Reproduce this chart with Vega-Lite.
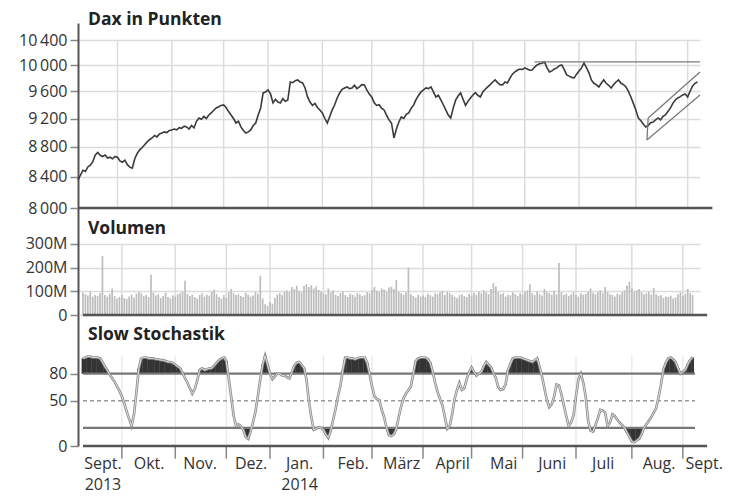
{
"$schema": "https://vega.github.io/schema/vega-lite/v6.json",
"background": "white",
"padding": {"left": 0, "top": 10, "right": 0, "bottom": 22},
"spacing": 0,
"bounds": "flush",
"config": {
  "view": {"stroke": null},
  "font": "Open Sans",
  "axis": {"labelFont": "Open Sans", "labelFontSize": 16, "labelColor": "#333", "labelOverlap": false, "domainColor": "#555", "domainWidth": 2, "tickColor": "#888", "tickSize": 8, "tickWidth": 1.5, "labelPadding": 3, "gridColor": "#dcdcdc", "gridWidth": 1.5},
  "axisY": {"minExtent": 78, "maxExtent": 78, "labelFontSize": 16},
  "title": {"font": "Open Sans", "fontSize": 17.5, "fontWeight": "bold", "color": "#222", "anchor": "start", "frame": "group", "baseline": "alphabetic", "dx": 10}
},
"datasets": {
"m": [{"b":16},{"b":38},{"b":59},{"b":77},{"b":99},{"b":119},{"b":140},{"b":160},{"b":181},{"b":203},{"b":226},{"b":247}],
"lines": [{"g":"r","t":185,"v":10050},{"g":"r","t":252,"v":10050},{"g":"u","t":231,"v":9208},{"g":"u","t":252,"v":9894},{"g":"l","t":230.5,"v":8897},{"g":"l","t":252,"v":9545},{"g":"c","t":230.5,"v":8897},{"g":"c","t":231,"v":9208}],
"d": [
{"t":0,"c":8358,"v":95,"k":97},{"t":1,"c":8420,"v":88,"k":98},{"t":2,"c":8486,"v":82,"k":99},{"t":3,"c":8470,"v":100,"k":99},{"t":4,"c":8530,"v":78,"k":98},{"t":5,"c":8553,"v":85,"k":98},{"t":6,"c":8600,"v":80,"k":98},{"t":7,"c":8690,"v":92,"k":97},{"t":8,"c":8726,"v":250,"k":93},{"t":9,"c":8686,"v":85,"k":88},
{"t":10,"c":8670,"v":78,"k":84},{"t":11,"c":8690,"v":90,"k":79},{"t":12,"c":8650,"v":112,"k":75},{"t":13,"c":8660,"v":80,"k":71},{"t":14,"c":8640,"v":70,"k":66},{"t":15,"c":8670,"v":76,"k":61},{"t":16,"c":8660,"v":84,"k":55},{"t":17,"c":8610,"v":72,"k":47},{"t":18,"c":8593,"v":68,"k":38},{"t":19,"c":8620,"v":78,"k":30},
{"t":20,"c":8560,"v":86,"k":22},{"t":21,"c":8527,"v":74,"k":35},{"t":22,"c":8514,"v":90,"k":60},{"t":23,"c":8640,"v":98,"k":86},{"t":24,"c":8713,"v":92,"k":97},{"t":25,"c":8760,"v":80,"k":98},{"t":26,"c":8793,"v":85,"k":98},{"t":27,"c":8830,"v":76,"k":97},{"t":28,"c":8870,"v":170,"k":97},{"t":29,"c":8900,"v":95,"k":97},
{"t":30,"c":8925,"v":82,"k":96},{"t":31,"c":8960,"v":88,"k":96},{"t":32,"c":8940,"v":72,"k":95},{"t":33,"c":8980,"v":80,"k":95},{"t":34,"c":8993,"v":94,"k":94},{"t":35,"c":9010,"v":76,"k":93},{"t":36,"c":9000,"v":70,"k":93},{"t":37,"c":9030,"v":82,"k":92},{"t":38,"c":9037,"v":78,"k":90},{"t":39,"c":9050,"v":88,"k":88},
{"t":40,"c":9040,"v":92,"k":86},{"t":41,"c":9070,"v":98,"k":81},{"t":42,"c":9060,"v":145,"k":75},{"t":43,"c":9090,"v":90,"k":70},{"t":44,"c":9079,"v":80,"k":64},{"t":45,"c":9050,"v":86,"k":58},{"t":46,"c":9100,"v":76,"k":63},{"t":47,"c":9066,"v":70,"k":72},{"t":48,"c":9160,"v":84,"k":84},{"t":49,"c":9208,"v":92,"k":86},
{"t":50,"c":9190,"v":78,"k":84},{"t":51,"c":9230,"v":86,"k":85},{"t":52,"c":9200,"v":82,"k":86},{"t":53,"c":9251,"v":98,"k":86},{"t":54,"c":9280,"v":108,"k":89},{"t":55,"c":9320,"v":88,"k":92},{"t":56,"c":9353,"v":76,"k":95},{"t":57,"c":9370,"v":70,"k":97},{"t":58,"c":9390,"v":84,"k":98},{"t":59,"c":9397,"v":72,"k":94},
{"t":60,"c":9360,"v":96,"k":75},{"t":61,"c":9300,"v":110,"k":55},{"t":62,"c":9251,"v":92,"k":34},{"t":63,"c":9200,"v":84,"k":22},{"t":64,"c":9136,"v":88,"k":24},{"t":65,"c":9160,"v":80,"k":22},{"t":66,"c":9080,"v":76,"k":18},{"t":67,"c":9030,"v":94,"k":10},{"t":68,"c":8993,"v":86,"k":8},{"t":69,"c":9010,"v":78,"k":16},
{"t":70,"c":9037,"v":82,"k":26},{"t":71,"c":9100,"v":98,"k":38},{"t":72,"c":9136,"v":90,"k":55},{"t":73,"c":9250,"v":165,"k":74},{"t":74,"c":9353,"v":70,"k":90},{"t":75,"c":9575,"v":45,"k":100},{"t":76,"c":9590,"v":38,"k":90},{"t":77,"c":9620,"v":55,"k":80},{"t":78,"c":9560,"v":48,"k":74},{"t":79,"c":9427,"v":72,"k":77},
{"t":80,"c":9480,"v":86,"k":80},{"t":81,"c":9440,"v":92,"k":80},{"t":82,"c":9427,"v":84,"k":78},{"t":83,"c":9490,"v":98,"k":78},{"t":84,"c":9450,"v":104,"k":76},{"t":85,"c":9470,"v":96,"k":75},{"t":86,"c":9741,"v":118,"k":82},{"t":87,"c":9730,"v":110,"k":89},{"t":88,"c":9760,"v":124,"k":92},{"t":89,"c":9771,"v":102,"k":93},
{"t":90,"c":9740,"v":96,"k":90},{"t":91,"c":9725,"v":122,"k":86},{"t":92,"c":9650,"v":130,"k":74},{"t":93,"c":9515,"v":118,"k":50},{"t":94,"c":9440,"v":126,"k":32},{"t":95,"c":9390,"v":112,"k":18},{"t":96,"c":9420,"v":120,"k":19},{"t":97,"c":9360,"v":106,"k":21},{"t":98,"c":9324,"v":98,"k":20},{"t":99,"c":9280,"v":92,"k":18},
{"t":100,"c":9200,"v":88,"k":13},{"t":101,"c":9136,"v":112,"k":9},{"t":102,"c":9230,"v":96,"k":17},{"t":103,"c":9324,"v":104,"k":29},{"t":104,"c":9400,"v":86,"k":41},{"t":105,"c":9500,"v":80,"k":55},{"t":106,"c":9575,"v":92,"k":67},{"t":107,"c":9630,"v":98,"k":84},{"t":108,"c":9650,"v":84,"k":98},{"t":109,"c":9665,"v":76,"k":98},
{"t":110,"c":9640,"v":90,"k":97},{"t":111,"c":9650,"v":86,"k":97},{"t":112,"c":9690,"v":78,"k":96},{"t":113,"c":9640,"v":92,"k":97},{"t":114,"c":9665,"v":88,"k":98},{"t":115,"c":9700,"v":80,"k":98},{"t":116,"c":9695,"v":84,"k":98},{"t":117,"c":9620,"v":96,"k":92},{"t":118,"c":9560,"v":92,"k":80},{"t":119,"c":9515,"v":106,"k":66},
{"t":120,"c":9430,"v":118,"k":55},{"t":121,"c":9390,"v":102,"k":52},{"t":122,"c":9400,"v":96,"k":51},{"t":123,"c":9350,"v":112,"k":40},{"t":124,"c":9324,"v":108,"k":32},{"t":125,"c":9250,"v":98,"k":20},{"t":126,"c":9180,"v":116,"k":12},{"t":127,"c":9136,"v":120,"k":11},{"t":128,"c":8925,"v":110,"k":13},{"t":129,"c":9050,"v":148,"k":19},
{"t":130,"c":9150,"v":98,"k":32},{"t":131,"c":9222,"v":92,"k":44},{"t":132,"c":9200,"v":86,"k":53},{"t":133,"c":9260,"v":96,"k":58},{"t":134,"c":9280,"v":200,"k":62},{"t":135,"c":9350,"v":88,"k":66},{"t":136,"c":9397,"v":80,"k":80},{"t":137,"c":9480,"v":74,"k":94},{"t":138,"c":9540,"v":86,"k":97},{"t":139,"c":9590,"v":78,"k":98},
{"t":140,"c":9620,"v":82,"k":98},{"t":141,"c":9650,"v":76,"k":98},{"t":142,"c":9640,"v":90,"k":96},{"t":143,"c":9665,"v":84,"k":92},{"t":144,"c":9590,"v":78,"k":82},{"t":145,"c":9515,"v":92,"k":70},{"t":146,"c":9540,"v":88,"k":60},{"t":147,"c":9470,"v":96,"k":52},{"t":148,"c":9400,"v":102,"k":45},{"t":149,"c":9324,"v":84,"k":32},
{"t":150,"c":9250,"v":98,"k":19},{"t":151,"c":9208,"v":92,"k":22},{"t":152,"c":9350,"v":86,"k":35},{"t":153,"c":9470,"v":78,"k":52},{"t":154,"c":9530,"v":72,"k":62},{"t":155,"c":9575,"v":84,"k":70},{"t":156,"c":9480,"v":88,"k":62},{"t":157,"c":9390,"v":80,"k":64},{"t":158,"c":9450,"v":76,"k":74},{"t":159,"c":9500,"v":90,"k":82},
{"t":160,"c":9545,"v":82,"k":87},{"t":161,"c":9580,"v":94,"k":82},{"t":162,"c":9540,"v":86,"k":78},{"t":163,"c":9515,"v":98,"k":80},{"t":164,"c":9590,"v":92,"k":82},{"t":165,"c":9630,"v":104,"k":88},{"t":166,"c":9665,"v":96,"k":93},{"t":167,"c":9700,"v":88,"k":90},{"t":168,"c":9740,"v":110,"k":87},{"t":169,"c":9771,"v":135,"k":81},
{"t":170,"c":9730,"v":120,"k":75},{"t":171,"c":9700,"v":96,"k":65},{"t":172,"c":9695,"v":88,"k":62},{"t":173,"c":9740,"v":92,"k":63},{"t":174,"c":9725,"v":78,"k":68},{"t":175,"c":9800,"v":86,"k":84},{"t":176,"c":9860,"v":84,"k":91},{"t":177,"c":9894,"v":96,"k":97},{"t":178,"c":9920,"v":88,"k":98},{"t":179,"c":9940,"v":80,"k":98},
{"t":180,"c":9930,"v":92,"k":98},{"t":181,"c":9957,"v":86,"k":97},{"t":182,"c":9940,"v":98,"k":96},{"t":183,"c":9920,"v":104,"k":95},{"t":184,"c":9925,"v":130,"k":94},{"t":185,"c":9970,"v":92,"k":93},{"t":186,"c":10003,"v":84,"k":95},{"t":187,"c":10020,"v":100,"k":97},{"t":188,"c":10030,"v":88,"k":88},{"t":189,"c":10050,"v":82,"k":77},
{"t":190,"c":9960,"v":110,"k":64},{"t":191,"c":9894,"v":96,"k":51},{"t":192,"c":9910,"v":92,"k":43},{"t":193,"c":9940,"v":86,"k":46},{"t":194,"c":9957,"v":102,"k":55},{"t":195,"c":9990,"v":88,"k":68},{"t":196,"c":10003,"v":220,"k":67},{"t":197,"c":9930,"v":96,"k":57},{"t":198,"c":9848,"v":84,"k":45},{"t":199,"c":9830,"v":90,"k":33},
{"t":200,"c":9810,"v":80,"k":22},{"t":201,"c":9802,"v":88,"k":26},{"t":202,"c":9860,"v":96,"k":34},{"t":203,"c":9910,"v":84,"k":55},{"t":204,"c":9957,"v":78,"k":74},{"t":205,"c":10034,"v":92,"k":80},{"t":206,"c":9960,"v":86,"k":70},{"t":207,"c":9880,"v":90,"k":55},{"t":208,"c":9771,"v":98,"k":28},{"t":209,"c":9720,"v":112,"k":17},
{"t":210,"c":9700,"v":94,"k":16},{"t":211,"c":9665,"v":88,"k":23},{"t":212,"c":9720,"v":96,"k":31},{"t":213,"c":9771,"v":104,"k":40},{"t":214,"c":9720,"v":92,"k":39},{"t":215,"c":9690,"v":118,"k":37},{"t":216,"c":9650,"v":98,"k":22},{"t":217,"c":9700,"v":88,"k":26},{"t":218,"c":9740,"v":84,"k":35},{"t":219,"c":9771,"v":78,"k":33},
{"t":220,"c":9720,"v":90,"k":29},{"t":221,"c":9700,"v":86,"k":26},{"t":222,"c":9665,"v":96,"k":23},{"t":223,"c":9600,"v":104,"k":20},{"t":224,"c":9515,"v":125,"k":15},{"t":225,"c":9420,"v":140,"k":10},{"t":226,"c":9324,"v":112,"k":5},{"t":227,"c":9208,"v":98,"k":4},{"t":228,"c":9170,"v":104,"k":6},{"t":229,"c":9120,"v":110,"k":8},
{"t":230,"c":9079,"v":96,"k":13},{"t":231,"c":9100,"v":88,"k":20},{"t":232,"c":9140,"v":92,"k":24},{"t":233,"c":9150,"v":98,"k":28},{"t":234,"c":9180,"v":86,"k":32},{"t":235,"c":9208,"v":115,"k":37},{"t":236,"c":9180,"v":88,"k":42},{"t":237,"c":9230,"v":80,"k":54},{"t":238,"c":9251,"v":84,"k":68},{"t":239,"c":9300,"v":72,"k":85},
{"t":240,"c":9350,"v":78,"k":92},{"t":241,"c":9420,"v":76,"k":97},{"t":242,"c":9470,"v":82,"k":98},{"t":243,"c":9500,"v":70,"k":96},{"t":244,"c":9520,"v":74,"k":93},{"t":245,"c":9545,"v":88,"k":86},{"t":246,"c":9560,"v":96,"k":80},{"t":247,"c":9515,"v":80,"k":82},{"t":248,"c":9600,"v":90,"k":84},{"t":249,"c":9680,"v":110,"k":90},
{"t":250,"c":9720,"v":92,"k":95},{"t":251,"c":9741,"v":84,"k":98}
]
},
"vconcat": [
{
  "width": 622, "height": 185,
  "title": {"text": "Dax in Punkten", "offset": -5},
  "layer": [
    {"data": {"name": "m"}, "mark": {"type": "rule", "color": "#dcdcdc", "strokeWidth": 1.5},
     "encoding": {"x": {"field": "b", "type": "quantitative", "scale": {"domain": [0, 252], "nice": false, "zero": false}, "axis": null},
                  "y": {"datum": 8000, "type": "quantitative"}, "y2": {"datum": 10400}}},
    {"data": {"name": "d"}, "mark": {"type": "line", "color": "#3a3a3a", "strokeWidth": 1.6},
     "encoding": {"x": {"field": "t", "type": "quantitative", "scale": {"domain": [0, 252], "nice": false, "zero": false}, "axis": null},
                  "y": {"field": "c", "type": "quantitative", "scale": {"type": "log", "domain": [8000, 10680], "nice": false},
                        "axis": {"title": null, "labelFontSize": 16, "tickCount": 20, "values": [8000, 8400, 8800, 9200, 9600, 10000, 10400], "grid": true, "labelExpr": "replace(format(datum.value, ','), ',', '\u2009')"}}}},
    {"data": {"name": "lines"}, "mark": {"type": "line", "color": "#7a7a7a", "strokeWidth": 1.3},
     "encoding": {"x": {"field": "t", "type": "quantitative", "axis": null}, "y": {"field": "v", "type": "quantitative"}, "detail": {"field": "g"}}},
    {"data": {"values": [{}]}, "mark": {"type": "rule", "color": "#555", "strokeWidth": 2.5, "clip": false},
     "encoding": {"x": {"datum": 0, "type": "quantitative", "axis": null}, "x2": {"datum": 257}, "y": {"datum": 8000, "type": "quantitative"}}}
  ]
},
{
  "width": 622, "height": 107,
  "title": {"text": "Volumen", "offset": -29},
  "layer": [
    {"data": {"name": "m"}, "mark": {"type": "rule", "color": "#dcdcdc", "strokeWidth": 1.5},
     "encoding": {"x": {"field": "b", "type": "quantitative", "scale": {"domain": [0, 252], "nice": false, "zero": false}, "axis": null},
                  "y": {"datum": 0, "type": "quantitative", "scale": {"domain": [0, 452], "nice": false},
                        "axis": {"title": null, "labelFontSize": 16, "tickCount": 20, "values": [0, 100, 200, 300], "grid": true, "labelExpr": "datum.value == 0 ? '0' : datum.value + 'M'"}},
                  "y2": {"datum": 300}}},
    {"data": {"name": "d"}, "mark": {"type": "bar", "color": "#bdbdbd", "size": 1.7},
     "encoding": {"x": {"field": "t", "type": "quantitative", "scale": {"domain": [0, 252], "nice": false, "zero": false}, "axis": null},
                  "y": {"field": "v", "type": "quantitative", "scale": {"domain": [0, 452], "nice": false},
                        "axis": {"title": null, "labelFontSize": 16, "tickCount": 20, "values": [0, 100, 200, 300], "grid": true, "labelExpr": "datum.value == 0 ? '0' : datum.value + 'M'"}}}},
    {"data": {"values": [{}]}, "mark": {"type": "rule", "color": "#555", "strokeWidth": 2.5, "clip": false},
     "encoding": {"x": {"datum": 0, "type": "quantitative", "axis": null}, "x2": {"datum": 257}, "y": {"datum": 0, "type": "quantitative"}}}
  ]
},
{
  "width": 622, "height": 131,
  "title": {"text": "Slow Stochastik", "offset": -28},
  "layer": [
    {"data": {"name": "m"}, "mark": {"type": "rule", "color": "#e6e6e6", "strokeWidth": 1.2},
     "encoding": {"x": {"field": "b", "type": "quantitative", "scale": {"domain": [0, 252], "nice": false, "zero": false}},
                  "y": {"datum": 0, "type": "quantitative"}, "y2": {"datum": 100}}},
    {"data": {"name": "m"}, "mark": {"type": "rule", "color": "#888", "strokeWidth": 1.5, "clip": false},
     "encoding": {"x": {"field": "b", "type": "quantitative"},
                  "y": {"datum": 0, "type": "quantitative"}, "y2": {"datum": -14}}},
    {"data": {"name": "d"}, "transform": [{"filter": "datum.k > 80"}], "mark": {"type": "bar", "color": "#333", "size": 2.8},
     "encoding": {"x": {"field": "t", "type": "quantitative"}, "y": {"field": "k", "type": "quantitative"}, "y2": {"datum": 80}}},
    {"data": {"name": "d"}, "transform": [{"filter": "datum.k < 20"}], "mark": {"type": "bar", "color": "#333", "size": 2.8},
     "encoding": {"x": {"field": "t", "type": "quantitative"}, "y": {"field": "k", "type": "quantitative"}, "y2": {"datum": 20}}},
    {"data": {"values": [{"r": 80}, {"r": 20}]}, "mark": {"type": "rule", "color": "#777", "strokeWidth": 2.2},
     "encoding": {"x": {"datum": 0, "type": "quantitative"}, "x2": {"datum": 252}, "y": {"field": "r", "type": "quantitative"}}},
    {"data": {"values": [{"r": 50}]}, "mark": {"type": "rule", "color": "#999", "strokeWidth": 1.5, "strokeDash": [4, 3]},
     "encoding": {"x": {"datum": 0, "type": "quantitative"}, "x2": {"datum": 252}, "y": {"field": "r", "type": "quantitative"}}},
    {"data": {"name": "d"}, "mark": {"type": "line", "color": "#8a8a8a", "strokeWidth": 2.6},
     "encoding": {"x": {"field": "t", "type": "quantitative", "scale": {"domain": [0, 252], "nice": false, "zero": false},
                        "axis": {"title": null, "tickCount": 30, "values": [8, 27, 48, 69, 89, 111, 131, 152, 173, 193, 214, 237, 252], "ticks": false, "tickSize": 0, "domain": false, "grid": false, "labelPadding": 9, "labelBaseline": "top", "labelLineHeight": 21, "labelFlush": false, "labelOverlap": false, "labelBound": false,
                                 "labelAlign": {"condition": {"test": "datum.value == 252", "value": "left"}, "value": "center"},
                                 "labelOffset": {"condition": {"test": "datum.value == 252", "value": -10}, "value": 0},
                                 "labelExpr": "[['Sept.','2013'],'Okt.','Nov.','Dez.',['Jan.','2014'],'Feb.','März','April','Mai','Juni','Juli','Aug.','Sept.'][indexof([8,27,48,69,89,111,131,152,173,193,214,237,252], datum.value)]"}},
                  "y": {"field": "k", "type": "quantitative", "scale": {"domain": [0, 145], "nice": false},
                        "axis": {"title": null, "labelFontSize": 16, "tickCount": 20, "values": [0, 50, 80], "grid": false}}}},
    {"data": {"name": "d"}, "mark": {"type": "line", "color": "#e8e8e8", "strokeWidth": 0.9},
     "encoding": {"x": {"field": "t", "type": "quantitative"}, "y": {"field": "k", "type": "quantitative"}}},
    {"data": {"values": [{}]}, "mark": {"type": "rule", "color": "#555", "strokeWidth": 2.5, "clip": false},
     "encoding": {"x": {"datum": 0, "type": "quantitative"}, "x2": {"datum": 257}, "y": {"datum": 0, "type": "quantitative"}}}
  ]
}
]
}
